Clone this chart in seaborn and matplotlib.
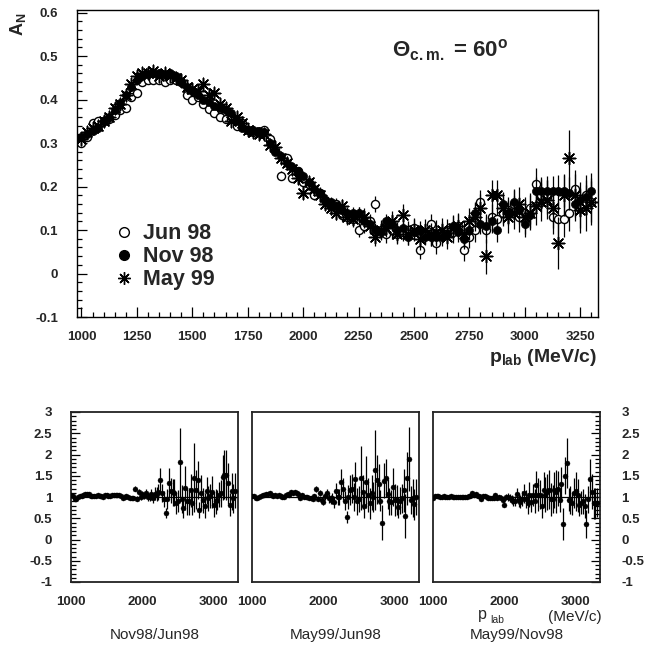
import numpy as np
import pandas as pd
import matplotlib
matplotlib.use("Agg")
import matplotlib.pyplot as plt
from matplotlib.lines import Line2D
from matplotlib.ticker import MultipleLocator, FixedLocator, FuncFormatter
import seaborn as sns

# ---------------- data ----------------
p_lab = [1000, 1025, 1050, 1075, 1100, 1125, 1150, 1175, 1200, 1225, 1250, 1275,
         1300, 1325, 1350, 1375, 1400, 1425, 1450, 1475, 1500, 1525, 1550, 1575,
         1600, 1625, 1650, 1675, 1700, 1725, 1750, 1775, 1800, 1825, 1850, 1875,
         1900, 1925, 1950, 1975, 2000, 2025, 2050, 2075, 2100, 2125, 2150, 2175,
         2200, 2225, 2250, 2275, 2300, 2325, 2350, 2375, 2400, 2425, 2450, 2475,
         2500, 2525, 2550, 2575, 2600, 2625, 2650, 2675, 2700, 2725, 2750, 2775,
         2800, 2825, 2850, 2875, 2900, 2925, 2950, 2975, 3000, 3025, 3050, 3075,
         3100, 3125, 3150, 3175, 3200, 3225, 3250, 3275, 3300]

a_jun98 = [0.300, 0.315, 0.345, 0.350, 0.350, 0.355, 0.365, 0.375, 0.380, 0.405, 0.415, 0.440,
           0.445, 0.445, 0.445, 0.440, 0.445, 0.445, 0.440, 0.410, 0.400, 0.405, 0.390, 0.378,
           0.370, 0.360, 0.355, 0.355, 0.340, 0.345, 0.330, 0.325, 0.325, 0.330, 0.310, 0.285,
           0.225, 0.265, 0.220, 0.235, 0.210, 0.205, 0.180, 0.185, 0.170, 0.155, 0.160, 0.135,
           0.130, 0.125, 0.100, 0.110, 0.120, 0.160, 0.100, 0.090, 0.100, 0.090, 0.095, 0.100,
           0.105, 0.055, 0.090, 0.115, 0.070, 0.095, 0.100, 0.095, 0.110, 0.055, 0.085, 0.100,
           0.165, 0.100, 0.130, 0.125, 0.140, 0.145, 0.160, 0.130, 0.140, 0.150, 0.205, 0.180,
           0.175, 0.130, 0.125, 0.125, 0.140, 0.195, 0.150, 0.180, 0.165]

a_nov98 = [0.315, 0.320, 0.327, 0.335, 0.350, 0.360, 0.375, 0.392, 0.410, 0.430, 0.445, 0.455,
           0.458, 0.460, 0.460, 0.458, 0.460, 0.455, 0.440, 0.430, 0.420, 0.410, 0.400, 0.395,
           0.385, 0.380, 0.375, 0.370, 0.350, 0.335, 0.330, 0.330, 0.328, 0.325, 0.300, 0.280,
           0.270, 0.255, 0.245, 0.235, 0.225, 0.210, 0.195, 0.185, 0.170, 0.165, 0.155, 0.145,
           0.140, 0.140, 0.140, 0.120, 0.115, 0.100, 0.095, 0.120, 0.115, 0.100, 0.105, 0.085,
           0.095, 0.100, 0.085, 0.085, 0.085, 0.085, 0.090, 0.110, 0.095, 0.080, 0.100, 0.140,
           0.115, 0.110, 0.120, 0.100, 0.160, 0.140, 0.165, 0.145, 0.115, 0.135, 0.190, 0.190,
           0.190, 0.190, 0.190, 0.190, 0.185, 0.160, 0.170, 0.175, 0.190]

a_may99 = [0.310, 0.325, 0.335, 0.340, 0.350, 0.360, 0.380, 0.390, 0.410, 0.435, 0.455, 0.460,
           0.460, 0.465, 0.455, 0.460, 0.455, 0.450, 0.445, 0.430, 0.425, 0.420, 0.435, 0.410,
           0.415, 0.390, 0.380, 0.350, 0.360, 0.345, 0.330, 0.325, 0.320, 0.320, 0.295, 0.290,
           0.265, 0.255, 0.240, 0.220, 0.185, 0.210, 0.195, 0.180, 0.160, 0.150, 0.140, 0.155,
           0.130, 0.125, 0.135, 0.130, 0.110, 0.085, 0.100, 0.105, 0.120, 0.090, 0.135, 0.090,
           0.100, 0.080, 0.100, 0.090, 0.095, 0.100, 0.085, 0.105, 0.110, 0.090, 0.120, 0.130,
           0.150, 0.040, 0.180, 0.180, 0.150, 0.130, 0.140, 0.160, 0.130, 0.140, 0.155, 0.165,
           0.170, 0.150, 0.070, 0.180, 0.265, 0.180, 0.145, 0.150, 0.165]

e_jun98 = [0.005, 0.005, 0.005, 0.005, 0.005, 0.005, 0.005, 0.005, 0.005, 0.005, 0.005, 0.005,
           0.005, 0.005, 0.005, 0.005, 0.005, 0.005, 0.005, 0.005, 0.006, 0.006, 0.006, 0.006,
           0.006, 0.006, 0.006, 0.006, 0.007, 0.007, 0.007, 0.007, 0.008, 0.008, 0.009, 0.009,
           0.010, 0.010, 0.010, 0.011, 0.011, 0.012, 0.012, 0.013, 0.013, 0.014, 0.014, 0.015,
           0.015, 0.016, 0.017, 0.017, 0.018, 0.018, 0.019, 0.019, 0.020, 0.020, 0.021, 0.021,
           0.022, 0.022, 0.023, 0.023, 0.024, 0.024, 0.025, 0.025, 0.026, 0.026, 0.027, 0.027,
           0.028, 0.029, 0.030, 0.030, 0.031, 0.032, 0.033, 0.034, 0.035, 0.036, 0.037, 0.038,
           0.039, 0.040, 0.041, 0.042, 0.043, 0.044, 0.045, 0.046, 0.047]

e_nov98 = [0.004, 0.004, 0.004, 0.004, 0.004, 0.004, 0.004, 0.004, 0.004, 0.004, 0.004, 0.004,
           0.004, 0.004, 0.004, 0.004, 0.004, 0.004, 0.004, 0.005, 0.005, 0.005, 0.005, 0.005,
           0.005, 0.005, 0.005, 0.006, 0.006, 0.006, 0.006, 0.006, 0.007, 0.007, 0.008, 0.008,
           0.008, 0.009, 0.009, 0.009, 0.010, 0.010, 0.011, 0.011, 0.012, 0.012, 0.012, 0.013,
           0.013, 0.014, 0.014, 0.015, 0.015, 0.016, 0.016, 0.017, 0.017, 0.018, 0.018, 0.019,
           0.019, 0.020, 0.020, 0.021, 0.021, 0.022, 0.022, 0.023, 0.023, 0.024, 0.024, 0.025,
           0.025, 0.026, 0.026, 0.027, 0.027, 0.028, 0.029, 0.030, 0.030, 0.031, 0.032, 0.033,
           0.034, 0.035, 0.036, 0.037, 0.038, 0.039, 0.040, 0.041, 0.042]

e_may99 = [0.006, 0.006, 0.006, 0.006, 0.006, 0.006, 0.006, 0.006, 0.006, 0.006, 0.006, 0.006,
           0.006, 0.006, 0.006, 0.006, 0.006, 0.006, 0.006, 0.006, 0.007, 0.007, 0.007, 0.007,
           0.007, 0.007, 0.007, 0.007, 0.008, 0.008, 0.008, 0.008, 0.009, 0.009, 0.010, 0.010,
           0.011, 0.011, 0.012, 0.012, 0.013, 0.013, 0.014, 0.015, 0.015, 0.016, 0.016, 0.017,
           0.018, 0.018, 0.019, 0.020, 0.020, 0.021, 0.022, 0.022, 0.023, 0.023, 0.024, 0.025,
           0.025, 0.026, 0.026, 0.027, 0.027, 0.028, 0.029, 0.029, 0.030, 0.030, 0.031, 0.032,
           0.032, 0.040, 0.034, 0.035, 0.036, 0.037, 0.038, 0.039, 0.040, 0.041, 0.043, 0.044,
           0.045, 0.046, 0.060, 0.048, 0.065, 0.050, 0.051, 0.053, 0.054]

run_labels = ["Jun 98", "Nov 98", "May 99"]
ratio_labels = ["Nov98/Jun98", "May99/Jun98", "May99/Nov98"]
top_yticks = [-0.1, 0.0, 0.1, 0.2, 0.3, 0.4, 0.5, 0.6]
top_xticks = [1000, 1250, 1500, 1750, 2000, 2250, 2500, 2750, 3000, 3250]
ratio_yticks = [-1, -0.5, 0, 0.5, 1, 1.5, 2, 2.5, 3]
ratio_xticks = [1000, 2000, 3000]

# ---------------- tables ----------------
df = pd.DataFrame({"p": p_lab, "jun": a_jun98, "nov": a_nov98, "may": a_may99,
                   "ejun": e_jun98, "enov": e_nov98, "emay": e_may99})


def ratio_table(num, den):
    r = df[num] / df[den]
    er = r * np.sqrt((df["e" + num] / df[num]) ** 2 + (df["e" + den] / df[den]) ** 2)
    return pd.DataFrame({"p": df["p"], "r": r, "er": er})


ratios = [ratio_table("nov", "jun"), ratio_table("may", "jun"), ratio_table("may", "nov")]

# ---------------- style ----------------
sns.set_theme(style="white")
plt.rcParams["font.family"] = ["Liberation Sans", "DejaVu Sans"]
plt.rcParams["font.weight"] = "bold"
plt.rcParams["axes.unicode_minus"] = False
plt.rcParams["mathtext.fontset"] = "custom"
plt.rcParams["mathtext.rm"] = "Liberation Sans:bold"
plt.rcParams["mathtext.it"] = "Liberation Sans:bold"
plt.rcParams["mathtext.bf"] = "Liberation Sans:bold"

W, H = 645, 648
fig = plt.figure(figsize=(W / 100, H / 100), dpi=100)
fig.patch.set_facecolor("white")


def box(x0, y0, x1, y1):
    return [x0 / W, 1 - y1 / H, (x1 - x0) / W, (y1 - y0) / H]


def fmt_g(v, pos):
    return "%g" % round(v, 3)


# ---------------- top panel ----------------
ax = fig.add_axes(box(77, 10, 598, 317))
ax.set_xlim(980, 3330)
ax.set_ylim(-0.1, 0.606)

styles = [
    dict(marker="o", s=34, color="white", edgecolor="black", linewidth=1.0),
    dict(marker="o", s=34, color="black", edgecolor="black", linewidth=0.5),
    dict(marker=(8, 2, 0), s=80, color="black", linewidth=1.1),
]
cols = [("jun", "ejun"), ("nov", "enov"), ("may", "emay")]
for i, ((c, ec), st) in enumerate(zip(cols, styles)):
    ax.errorbar(df["p"], df[c], yerr=df[ec], fmt="none", ecolor="black",
                elinewidth=0.9, capsize=0, zorder=2 + i)
    sns.scatterplot(data=df, x="p", y=c, ax=ax, zorder=2.5 + i, legend=False, **st)

ax.set_xlabel("")
ax.set_ylabel("")
ax.xaxis.set_major_locator(FixedLocator(top_xticks))
ax.xaxis.set_minor_locator(MultipleLocator(50))
ax.yaxis.set_major_locator(FixedLocator(top_yticks))
ax.yaxis.set_minor_locator(MultipleLocator(0.02))
ax.yaxis.set_major_formatter(FuncFormatter(fmt_g))
ax.tick_params(axis="both", which="both", direction="in", top=False, right=False,
               left=True, bottom=True, color="black", width=0.9)
ax.tick_params(axis="both", which="major", length=7, labelsize=9.5)
ax.tick_params(axis="both", which="minor", length=3.5)
ax.tick_params(axis="y", which="major", pad=13.5)
ax.tick_params(axis="x", which="major", pad=10)
for sp in ax.spines.values():
    sp.set_color("black")
    sp.set_linewidth(1.0)

handles = [
    Line2D([], [], ls="none", marker="o", ms=7, mfc="white", mec="black", mew=1.0),
    Line2D([], [], ls="none", marker="o", ms=7, mfc="black", mec="black"),
    Line2D([], [], ls="none", marker=(8, 2, 0), ms=9, mec="black", mew=1.0),
]
leg = ax.legend(handles, run_labels, loc="upper left", bbox_to_anchor=(0.075, 0.306),
                frameon=False, fontsize=15.5, handlelength=0.75, handletextpad=0.5,
                labelspacing=0.1, borderpad=0, borderaxespad=0)

fig.text(392 / W, 1 - 57 / H, r"$\Theta_{\mathrm{c.m.}}$ = 60$^{\mathrm{o}}$",
         ha="left", va="baseline", fontsize=16)
fig.text(18 / W, 1 - 24 / H, r"$\mathrm{A}_{\mathrm{N}}$", rotation=90,
         ha="center", va="center", fontsize=13)
fig.text(597 / W, 1 - 357 / H, r"$\mathrm{p}_{\mathrm{lab}}$ (MeV/c)",
         ha="right", va="center", fontsize=14)

# ---------------- ratio panels ----------------
lefts = [71, 252, 433]
for k, (x0, rt, lab) in enumerate(zip(lefts, ratios, ratio_labels)):
    bx = fig.add_axes(box(x0, 412, x0 + 167, 582))
    bx.set_xlim(1000, 3340)
    bx.set_ylim(-1, 3)
    bx.axhline(1, color="black", lw=0.9, zorder=1)
    bx.errorbar(rt["p"], rt["r"], yerr=rt["er"], fmt="none", ecolor="black",
                elinewidth=0.9, capsize=0, zorder=2)
    sns.scatterplot(data=rt, x="p", y="r", ax=bx, marker="o", s=13, color="black",
                    edgecolor="black", linewidth=0.3, zorder=3, legend=False)
    bx.set_xlabel("")
    bx.set_ylabel("")
    bx.xaxis.set_major_locator(FixedLocator(ratio_xticks))
    bx.xaxis.set_minor_locator(MultipleLocator(200))
    bx.yaxis.set_major_locator(FixedLocator(ratio_yticks))
    bx.yaxis.set_minor_locator(MultipleLocator(0.1))
    bx.yaxis.set_major_formatter(FuncFormatter(fmt_g))
    bx.tick_params(axis="both", which="both", direction="in", top=False,
                   color="black", width=0.9)
    bx.tick_params(axis="both", which="major", length=6.5, labelsize=9.5)
    bx.tick_params(axis="both", which="minor", length=3.5)
    bx.tick_params(axis="x", which="major", pad=10)
    if k == 0:
        bx.tick_params(axis="y", which="both", left=True, right=False,
                       labelleft=True, labelright=False)
        bx.tick_params(axis="y", which="major", pad=13.5)
    elif k == 1:
        bx.tick_params(axis="y", which="both", left=False, right=False,
                       labelleft=False, labelright=False)
    else:
        bx.tick_params(axis="y", which="both", left=False, right=True,
                       labelleft=False, labelright=True)
        bx.tick_params(axis="y", which="major", pad=15.5)
    for sp in bx.spines.values():
        sp.set_color("#222222")
        sp.set_linewidth(1.3)
    bx.text(0.5, -0.312, lab, transform=bx.transAxes, ha="center", va="center",
            fontsize=11, fontweight="normal")

fig.text(478 / W, 1 - 619 / H, "p", ha="left", va="baseline", fontsize=11.5,
         fontweight="normal")
fig.text(490 / W, 1 - 623 / H, "lab", ha="left", va="baseline", fontsize=7.5,
         fontweight="normal")
fig.text(602 / W, 1 - 621 / H, "(MeV/c)", ha="right", va="baseline", fontsize=11,
         fontweight="normal")

fig.savefig("out.png", dpi=100, facecolor="white")
